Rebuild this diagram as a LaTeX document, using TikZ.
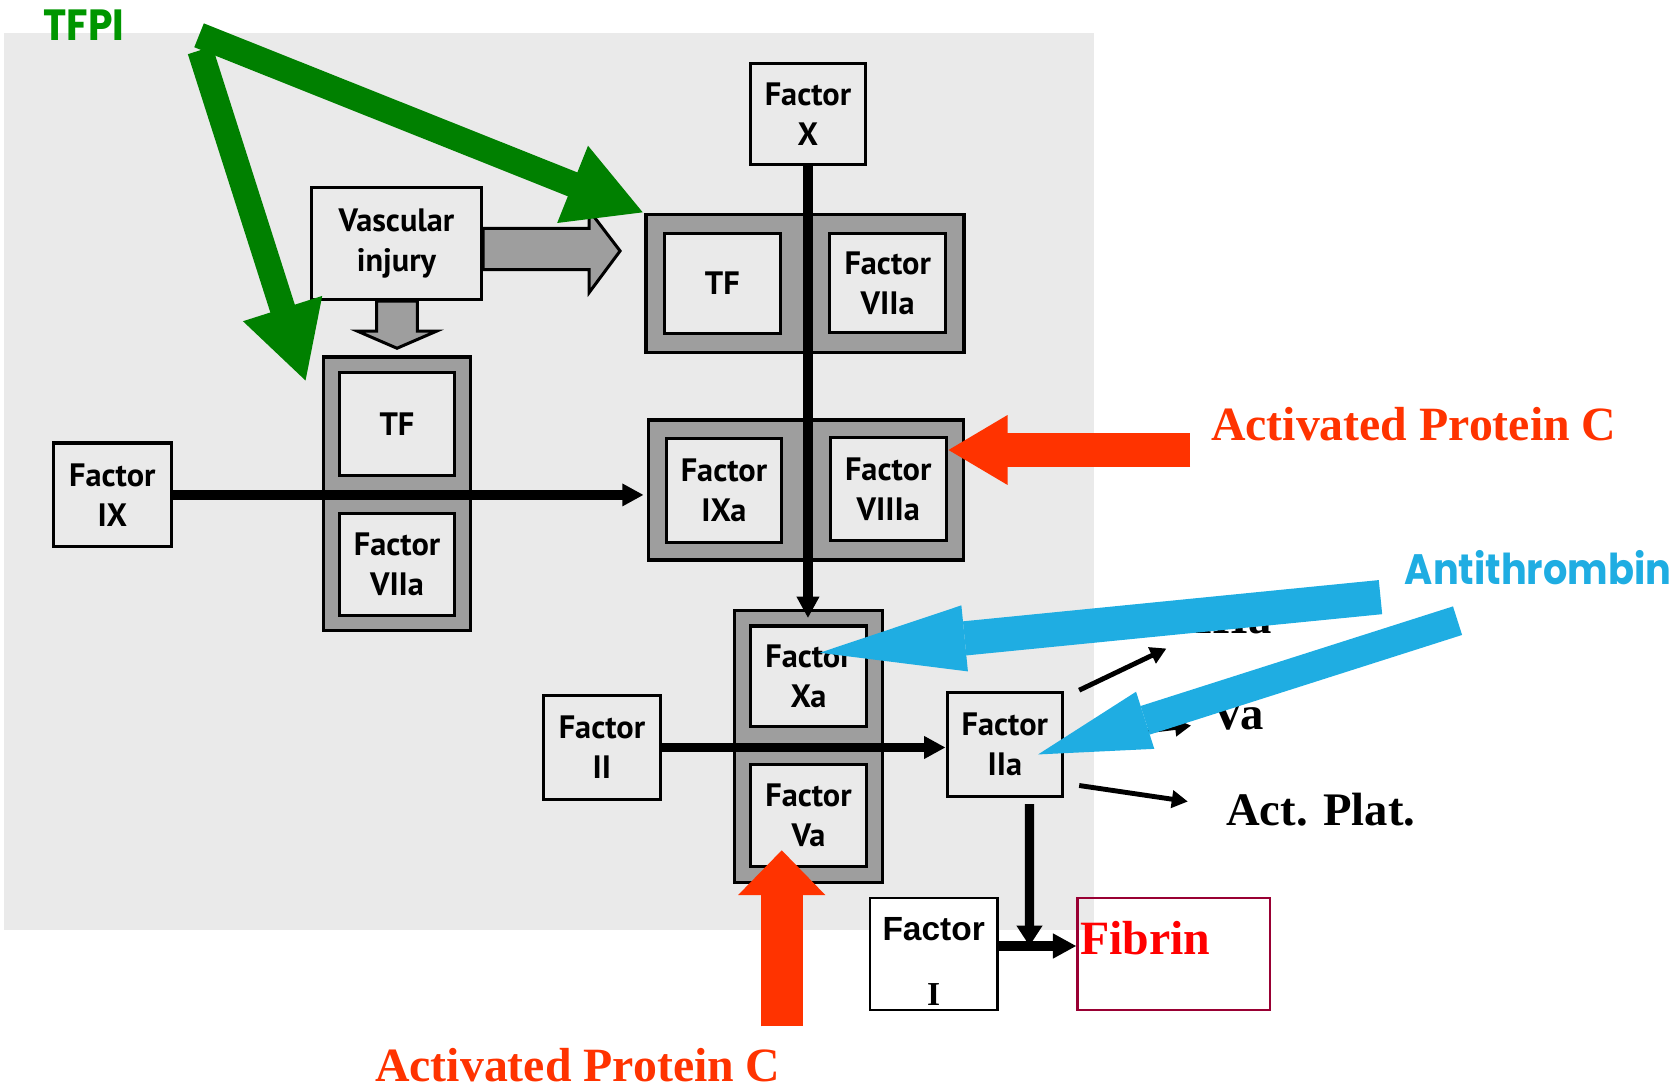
\documentclass[tikz,border=0pt]{standalone}
\usepackage{fontspec}
\setmainfont{Liberation Serif}
\newfontfamily\scanfont{PT Sans}
\newfontfamily\arialfont{Liberation Sans}
\newfontfamily\geofont[FakeStretch=0.9]{Poppins}
\usetikzlibrary{arrows.meta,fit,backgrounds}

\definecolor{panelgray}{RGB}{234,234,234}
\definecolor{dotgray}{RGB}{158,158,158}
\definecolor{apcred}{RGB}{255,51,0}
\definecolor{atblue}{RGB}{31,173,226}
\definecolor{tfpigreen}{RGB}{0,150,0}
\definecolor{inhibgreen}{RGB}{0,128,0}
\definecolor{fibrinred}{RGB}{255,0,0}
\definecolor{fibrinedge}{RGB}{153,0,51}

\tikzset{
  factor/.style={draw,line width=0.8pt,fill=panelgray,minimum width=1.08cm,
    minimum height=0.95cm,inner sep=0pt,align=center,
    font={\scanfont\bfseries\fontsize{8.6}{10.6}\selectfont}},
  complex/.style={draw,line width=0.9pt,fill=dotgray},
  injury/.style={draw,line width=0.8pt,fill=dotgray},
  route/.style={line width=2.6pt,-{Triangle[length=0.2cm,width=0.2cm]}},
  route2/.style={line width=2.4pt,-{Triangle[length=0.19cm,width=0.23cm]}},
  effect/.style={line width=1.3pt,-{Triangle[length=0.15cm,width=0.16cm]}},
  outcome/.style={anchor=base west,inner sep=0pt,font={\bfseries\fontsize{12.4}{15}\selectfont}},
  apclabel/.style={inner sep=0pt,text=apcred,font={\bfseries\fontsize{12.7}{15}\selectfont}},
  apcarrow/.style={apcred,line width=0.31cm,-{Triangle[length=0.56cm,width=0.61cm]}},
  tfpiarrow/.style={inhibgreen,line width=0.24cm,-{Triangle[length=0.72cm,width=0.72cm]}},
  atarrow/.style={atblue,line width=0.32cm,-{Triangle[length=1.36cm,width=0.62cm,line width=0pt]}}
}

\begin{document}
\begin{tikzpicture}[x=0.01cm,y=-0.01cm]
  \useasboundingbox (0,0) rectangle (1568,1016);

  % factors and complexes
  \node[factor] (fX) at (755,106.5) {Factor\\X};
  \node[factor,minimum width=1.59cm,minimum height=1.05cm] (vasc) at (370.5,227.5) {Vascular\\injury};
  \node[factor,minimum width=1.10cm,minimum height=0.97cm] (fIX) at (105,462.5) {Factor\\IX};
  \node[factor,minimum height=0.96cm] (tfL) at (371,396) {TF};
  \node[factor] (viiaL) at (371,527.5) {Factor\\VIIa};
  \node[factor,minimum height=0.94cm] (tfR) at (675,265) {TF};
  \node[factor,minimum height=0.93cm] (viiaR) at (829.5,264.5) {Factor\\VIIa};
  \node[factor,minimum height=0.97cm] (ixa) at (676.5,458.5) {Factor\\IXa};
  \node[factor,minimum height=0.96cm] (viiia) at (830,457) {Factor\\VIIIa};
  \node[factor,minimum width=1.09cm,minimum height=0.94cm] (xa) at (755.5,632) {Factor\\Xa};
  \node[factor,minimum width=1.09cm,minimum height=0.96cm] (va) at (755.5,762) {Factor\\Va};
  \node[factor,minimum width=1.09cm,minimum height=0.97cm] (fII) at (562.5,698.5) {Factor\\II};
  \node[factor,minimum height=0.97cm] (fIIa) at (939,695.5) {Factor\\IIa};

  \begin{pgfonlayer}{background}
    \fill[panelgray] (4,31) rectangle (1022,869);
    \node[complex,fit=(tfL)(viiaL),inner sep=0.13cm] (cL) {};
    \node[complex,fit=(tfR)(viiaR),inner sep=0.16cm] (cR) {};
    \node[complex,fit=(ixa)(viiia),inner sep=0.15cm] (cIX) {};
    \node[complex,fit=(xa)(va),inner sep=0.13cm] (cXa) {};
  \end{pgfonlayer}

  % vascular injury exposes TF
  \draw[injury] (vasc.east) ++(0,-14) -- ++(99,0) -- ++(0,-17) -- ++(29,38)
    -- ++(-29,39) -- ++(0,-21.5) -- ++(-99,0) -- cycle;
  \draw[injury] (vasc.south) ++(-18.5,0) -- ++(0,28) -- ++(-18,0) -- ++(37,16)
    -- ++(37,-16) -- ++(-18,0) -- ++(0,-28) -- cycle;

  % fibrin formation
  \node[draw,line width=0.6pt,fill=white,minimum width=1.19cm,minimum height=1.05cm,
    inner sep=0pt,align=center,font={\bfseries\fontsize{8.9}{10.7}\selectfont}]
    (fI) at (872.5,891.5) {\rule{0pt}{0.35cm}{\arialfont Factor}\\[0.23cm]I};
  \node[draw=fibrinedge,line width=0.6pt,minimum width=1.80cm,minimum height=1.05cm] (fibrin) at (1097,891.5) {};
  \node[anchor=base west,inner sep=0pt,text=fibrinred,font={\bfseries\fontsize{12.7}{15}\selectfont}]
    (fibrinLbl) at ([xshift=0.03cm,yshift=-0.54cm]fibrin.north west) {Fibrin};

  % activation routes
  \draw[route,shorten >=0.06cm] (fX.south) -- (fX.south |- xa.north);
  \draw[route,shorten >=0.03cm] (fIX.east) -- (fIX.east -| cIX.west);
  \draw[route] (fII.east) -- (fII.east -| fIIa.west);
  \coordinate (jn) at (962,884);
  \draw[route2] ([xshift=0.23cm,yshift=-0.06cm]fIIa.south) -- (jn);
  \draw[route2,-{Triangle[length=0.22cm,width=0.22cm]}] (fI.east |- jn) -- (fibrin.west |- jn);

  % thrombin effects
  \node[outcome] (lVIII) at (1084,592) {VIIIa};
  \node[outcome] (lVa) at (1131,682) {Va};
  \node[outcome] (lPlat) at (1145,771) {Act. Plat.};
  \coordinate (toVIII) at (1090,606);
  \coordinate (toVa) at (1113,678);
  \coordinate (toPlat) at (1110,749);
  \draw[effect] ([xshift=0.14cm,yshift=0.505cm]fIIa.east) -- (toVIII);
  \draw[effect] ([xshift=0.15cm,yshift=0.05cm]fIIa.east) -- (toVa);
  \draw[effect] ([xshift=0.14cm,yshift=-0.385cm]fIIa.east) -- (toPlat);

  % inhibitors
  \node[apclabel,anchor=base west] (apcT) at (1131,412) {Activated Protein C};
  \node[apclabel,anchor=base] (apcB) at (540,1011) {Activated Protein C};
  \coordinate (apcTail) at (1112,420.5);
  \draw[apcarrow] (apcTail) -- (apcTail -| viiia.east);
  \coordinate (apcFoot) at (730.5,959);
  \coordinate (vaHit) at ([yshift=0.17cm]va.south);
  \draw[apcarrow,line width=0.39cm,-{Triangle[length=0.42cm,width=0.79cm]}] (apcFoot) -- (apcFoot |- vaHit);

  \node[anchor=base west,inner sep=0pt,text=tfpigreen,font={\geofont\bfseries\fontsize{11.6}{14}\selectfont}]
    (tfpi) at (40,38) {TFPI};
  \coordinate (tfpiA) at (186,33);
  \coordinate (tfpiB) at (187,47);
  \draw[tfpiarrow] (tfpiA) -- (cR.north west);
  \draw[tfpiarrow] (tfpiB) -- ([xshift=-0.15cm,yshift=-0.25cm]cL.north west);

  \node[anchor=base west,inner sep=0pt,text=atblue,font={\geofont\bfseries\fontsize{11.3}{13}\selectfont}]
    (atLbl) at (1312,546) {Antithrombin};
  \coordinate (atA) at (1290,558);
  \coordinate (atB) at (1362,580);
  \draw[atarrow] (atA) -- ([xshift=0.105cm,yshift=0.22cm]xa.center);
  \draw[atarrow,line width=0.28cm,-{Triangle[length=1.05cm,width=0.56cm,line width=0pt]}] (atB) -- ([xshift=0.31cm,yshift=-0.095cm]fIIa.center);
\end{tikzpicture}
\end{document}
